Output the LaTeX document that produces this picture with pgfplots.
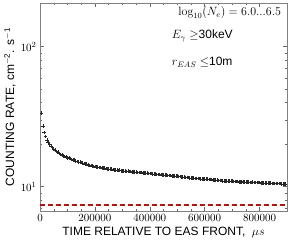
\documentclass[border=0pt]{standalone}
\usepackage{fontspec}
\setsansfont{Liberation Sans}
\usepackage{pgfplots}
\usepackage{pgfplotstable}
\pgfplotsset{compat=1.18}
\definecolor{dred}{RGB}{180,20,20}
\pgfplotstableread{
x y
5000 33.5
10000 27.2
15000 24.4
20000 22.8
25000 21.5
30000 20.9
35000 20.1
40000 19.6
45000 19.0
50000 18.6
55000 18.2
60000 17.8
65000 17.6
70000 17.2
75000 17.0
80000 16.8
85000 16.6
90000 16.4
95000 16.3
100000 16.1
105000 16.05
110000 15.9
115000 15.6
120000 15.5
125000 15.45
130000 15.3
135000 15.1
140000 15.0
145000 14.95
150000 14.85
155000 14.7
160000 14.6
165000 14.55
170000 14.45
175000 14.25
180000 14.2
185000 14.15
190000 14.05
195000 13.9
200000 13.95
205000 13.85
210000 13.8
215000 13.68
220000 13.72
225000 13.6
230000 13.55
235000 13.56
240000 13.5
245000 13.4
250000 13.35
255000 13.38
260000 13.32
265000 13.22
270000 13.2
275000 13.18
280000 13.12
285000 13.06
290000 13.1
295000 13.0
300000 12.98
305000 12.99
310000 12.95
315000 12.86
320000 12.88
325000 12.82
330000 12.86
335000 12.76
340000 12.75
345000 12.74
350000 12.72
355000 12.64
360000 12.62
365000 12.63
370000 12.6
375000 12.52
380000 12.5
385000 12.5
390000 12.47
395000 12.4
400000 12.38
405000 12.4
410000 12.36
415000 12.28
420000 12.28
425000 12.24
430000 12.2
435000 12.21
440000 12.18
445000 12.12
450000 12.1
455000 12.1
460000 12.06
465000 12.0
470000 11.98
475000 11.99
480000 11.96
485000 11.9
490000 11.88
495000 11.89
500000 11.86
505000 11.8
510000 11.78
515000 11.76
520000 11.72
525000 11.68
530000 11.66
535000 11.66
540000 11.62
545000 11.56
550000 11.56
555000 11.54
560000 11.5
565000 11.47
570000 11.46
575000 11.44
580000 11.4
585000 11.36
590000 11.37
595000 11.33
600000 11.3
605000 11.31
610000 11.29
615000 11.24
620000 11.24
625000 11.22
630000 11.2
635000 11.16
640000 11.17
645000 11.12
650000 11.1
655000 11.1
660000 11.07
665000 11.02
670000 11.0
675000 11.01
680000 10.99
685000 10.95
690000 10.94
695000 10.95
700000 10.93
705000 10.89
710000 10.9
715000 10.9
720000 10.89
725000 10.84
730000 10.84
735000 10.85
740000 10.83
745000 10.79
750000 10.8
755000 10.8
760000 10.79
765000 10.74
770000 10.74
775000 10.75
780000 10.73
785000 10.69
790000 10.7
795000 10.7
800000 10.69
805000 10.64
810000 10.64
815000 10.65
820000 10.64
825000 10.6
830000 10.6
835000 10.6
840000 10.59
845000 10.55
850000 10.55
855000 10.55
860000 10.53
865000 10.5
870000 10.5
875000 10.51
880000 10.49
885000 10.45
890000 10.46
895000 10.45
}\datatable
\begin{document}
\begin{tikzpicture}
\begin{axis}[
 scale only axis, width=247pt, height=208pt,
 ymode=log, xmin=0, xmax=900000, ymin=6.7, ymax=205,
 xtick={0,200000,400000,600000,800000},
 minor x tick num=3,
 scaled x ticks=false,
 xticklabel style={/pgf/number format/fixed,/pgf/number format/1000 sep={}},
 tick align=inside,
 major tick length=4pt, minor tick length=2pt,
 axis line style={black!50},
 every tick/.style={black!60},
 ticklabel style={font=\fontsize{11}{13}\selectfont},
 xlabel={TIME RELATIVE TO EAS FRONT, \ $\mu s$},
 ylabel={COUNTING RATE, cm\textsuperscript{$-$2}. s\textsuperscript{$-$1}},
 label style={font=\sffamily\fontsize{12}{14}\selectfont},
 xlabel style={at={(axis description cs:0.5,0)}, anchor=center, yshift=-21pt},
 ylabel style={at={(axis description cs:-0.1215,0.5)}, anchor=center},
]
\coordinate (ll) at (rel axis cs:0,0);
\coordinate (ur) at (rel axis cs:1,1);
\addplot[only marks, mark=+, mark size=1.8pt, black!85, mark options={line width=0.45pt}] table {\datatable};
\addplot[dred, line width=1.3pt, dash pattern=on 5pt off 3pt] coordinates {(0,7.4) (900000,7.4)};
\node[anchor=east, font=\fontsize{12}{14}\selectfont] at (axis description cs:0.99,0.952) {$\log_{10}(N_e)=6.0...6.5$};
\node[anchor=west, font=\fontsize{12}{14}\selectfont] at (axis description cs:0.52,0.841) {$E_\gamma\geq$\sffamily 30keV};
\node[anchor=west, font=\fontsize{12}{14}\selectfont] at (axis description cs:0.52,0.716) {$r_{EAS}\leq$\sffamily 10m};
\end{axis}
\pgfresetboundingbox
\path ([xshift=-40pt,yshift=-31pt]ll) rectangle ([xshift=6pt,yshift=3pt]ur);
\end{tikzpicture}
\end{document}
